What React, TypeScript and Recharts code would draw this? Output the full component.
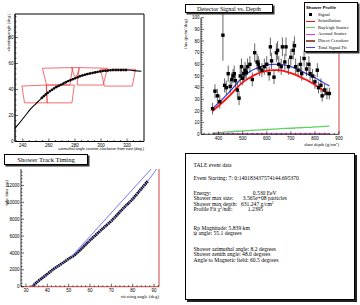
import React from 'react';
import {
  ComposedChart, Line, Scatter, XAxis, YAxis, ErrorBar, ReferenceArea, ReferenceLine,
} from 'recharts';

const SERIF = '"Liberation Serif", "Times New Roman", serif';
const SANS = '"Liberation Sans", Arial, sans-serif';

// ---- panel 1: track in the sky
const trackAz = [234, 238, 242, 246, 250, 254, 258, 262, 266, 270, 275, 280, 285, 290, 295, 300, 305, 310, 315, 320, 325, 331];
const trackEl = [10, 15, 20, 25, 29, 33, 36.5, 39.5, 42, 44, 46.5, 48.5, 50.5, 52, 53, 54, 54.5, 55, 55, 55, 54.5, 54];
const tubeOutlines = [
  [[255.1, 56.3], [278.2, 56.8], [276.1, 43.4], [258.2, 43.4]],
  [[277.4, 56.8], [283.3, 56.8], [281.5, 50.4], [279.5, 50.4]],
  [[283.3, 56.8], [304.9, 56.3], [301.7, 43.4], [281.7, 43.4]],
  [[299.6, 55.5], [326.5, 55.5], [324, 42.6], [302.6, 42.6]],
  [[239.3, 42.6], [258, 43.4], [258.7, 29.7], [241.3, 29.7]],
  [[258, 43.4], [279.5, 43.4], [277.7, 29.7], [258.7, 29.7]],
];
const az1Ticks = [235, 240, 245, 250, 255, 260, 265, 270, 275, 280, 285, 290, 295, 300, 305, 310, 315, 320, 325, 330];
const el1Ticks = [0, 4, 8, 12, 16, 20, 24, 28, 32, 36, 40, 44, 48, 52, 56, 60, 64, 68, 72, 76, 80, 84, 88, 92, 96];

// ---- panel 2: profile
const sigDepth = [375, 385, 395, 405, 418, 425, 432, 440, 448, 455, 460, 465, 470, 478, 485, 490, 495, 500, 505, 510, 515, 520, 530, 540, 550, 560, 565, 570, 580, 590, 600, 610, 615, 620, 630, 640, 645, 650, 660, 665, 675, 680, 690, 700, 710, 715, 720, 730, 740, 745, 755, 765, 775, 780, 790, 800, 810, 815, 825, 830, 840, 850, 860];
const sigFlux = [22, 37, 33, 28, 85, 42, 40, 52, 41, 47, 50, 52, 46, 38, 31, 50, 58, 48, 52, 55, 53, 58, 60, 47, 70, 62, 60, 57, 55, 58, 60, 52, 75, 63, 49, 70, 72, 60, 58, 75, 62, 75, 58, 66, 72, 76, 58, 55, 60, 52, 65, 56, 60, 52, 50, 45, 55, 40, 42, 33, 38, 35, 35];
const sigErr = [5, 6, 6, 6, 22, 6, 6, 7, 6, 6, 6, 7, 6, 6, 6, 7, 7, 6, 7, 7, 6, 7, 7, 6, 8, 7, 7, 7, 6, 7, 7, 6, 8, 7, 6, 8, 8, 7, 7, 8, 7, 8, 7, 7, 8, 8, 7, 6, 7, 6, 7, 6, 7, 6, 6, 6, 6, 5, 6, 5, 5, 5, 5];
const fitDepth = [375, 400, 425, 450, 475, 500, 525, 550, 575, 600, 625, 650, 675, 700, 725, 750, 775, 800, 825, 860];
const scintFlux = [20, 24.5, 29, 34, 39.5, 44.5, 48, 51, 53, 54.5, 55, 55, 54, 52.5, 50.5, 48, 45.5, 42.5, 39, 34];
const totalFlux = [22, 27, 32, 37.5, 43.5, 49, 53, 56, 58, 59.5, 60, 60, 59.5, 58, 56, 53.5, 51, 48.5, 45.5, 41.5];
const rayleighFlux = [1.2, 1.5, 1.9, 2.2, 2.6, 2.9, 3.2, 3.5, 3.8, 4.1, 4.4, 4.7, 5, 5.2, 5.5, 5.8, 6, 6.3, 6.6, 7];
const aerosolFlux = [0.4, 0.4, 0.4, 0.4, 0.4, 0.4, 0.4, 0.4, 0.4, 0.4, 0.4, 0.4, 0.4, 0.4, 0.4, 0.4, 0.4, 0.4, 0.4, 0.4];
const cerenkovFlux = [0.1, 0.1, 0.1, 0.1, 0.1, 0.1, 0.1, 0.1, 0.1, 0.1, 0.1, 0.1, 0.1, 0.1, 0.1, 0.1, 0.1, 0.1, 0.1, 0.1];
const depthTicks = [340, 360, 380, 400, 420, 440, 460, 480, 500, 520, 540, 560, 580, 600, 620, 640, 660, 680, 700, 720, 740, 760, 780, 800, 820, 840, 860, 880, 900];
const fluxTicks = [0, 2, 4, 6, 8, 10, 12, 14, 16, 18, 20, 22, 24, 26, 28, 30, 32, 34, 36, 38, 40, 42, 44, 46, 48, 50, 52, 54, 56, 58, 60, 62, 64, 66, 68, 70, 72, 74, 76, 78, 80, 82, 84, 86, 88, 90, 92, 94, 96, 98, 100];

// ---- panel 3: timing
const viewAngle = [33, 35, 37, 40, 43, 46, 50, 53, 56, 60, 63, 66, 70, 73, 76, 80, 83, 85, 87];
const tubeTime = [0, 500, 900, 1500, 2100, 2600, 3300, 3800, 4500, 5500, 6200, 6900, 7800, 8600, 9400, 10400, 11300, 11900, 12500];
const fitAngle = [32.5, 40, 50, 60, 70, 80, 87, 91.3];
const fitTime = [0, 1500, 3300, 5500, 7800, 10400, 12500, 14000];
const lineAngle = [51.5, 88.8];
const lineTime = [3600, 14000];
const angleTicks = [28, 30, 32, 34, 36, 38, 40, 42, 44, 46, 48, 50, 52, 54, 56, 58, 60, 62, 64, 66, 68, 70, 72, 74, 76, 78, 80, 82, 84, 86, 88, 90, 92];
const timeTicks = [0, 400, 800, 1200, 1600, 2000, 2400, 2800, 3200, 3600, 4000, 4400, 4800, 5200, 5600, 6000, 6400, 6800, 7200, 7600, 8000, 8400, 8800, 9200, 9600, 10000, 10400, 10800, 11200, 11600, 12000, 12400, 12800, 13200, 13600];

const zip = (xs: number[], ys: number[]) => xs.map((x, i) => ({ x, y: ys[i] }));

const isMajor = (v: number, step: number) => Math.abs(v / step - Math.round(v / step)) < 1e-6;

function yTick(axisX: number, step: number, fs = 4.5) {
  return (props: any) => {
    const { y, payload } = props;
    const major = isMajor(payload.value, step);
    return (
      <g>
        <line x1={axisX} x2={axisX + (major ? 3 : 1.5)} y1={y} y2={y} stroke="#000" strokeWidth={0.6} />
        {major && (
          <text x={axisX - 1.5} y={y + fs * 0.35} textAnchor="end" fontSize={fs} fontFamily={SANS} fill="#000">
            {payload.value}
          </text>
        )}
      </g>
    );
  };
}

function xTick(axisY: number, step: number, fs = 4.5) {
  return (props: any) => {
    const { x, payload } = props;
    const major = isMajor(payload.value, step);
    return (
      <g>
        <line x1={x} x2={x} y1={axisY} y2={axisY - (major ? 3 : 1.5)} stroke="#000" strokeWidth={0.6} />
        {major && (
          <text x={x} y={axisY + fs + 1} textAnchor="middle" fontSize={fs} fontFamily={SANS} fill="#000">
            {payload.value}
          </text>
        )}
      </g>
    );
  };
}

const boxStyle: React.CSSProperties = {
  position: 'absolute',
  background: '#fff',
  border: '0.8px solid #000',
  boxShadow: '1.5px 1.5px 0 #333',
  boxSizing: 'border-box',
};

const Sup = ({ children }: { children: React.ReactNode }) => (
  <span style={{ fontSize: '0.62em', position: 'relative', top: '-0.55em', lineHeight: 0 }}>{children}</span>
);

function TrackPanel() {
  const plot = { top: 14, right: 144, bottom: 141.5, left: 15 };
  const w = 150, h = 150;
  return (
    <div style={{ position: 'absolute', left: 0, top: 0 }}>
      <ComposedChart width={w} height={h} margin={{ top: plot.top, right: w - plot.right, bottom: h - plot.bottom - 1, left: plot.left - 1 }}>
        <XAxis type="number" dataKey="x" domain={[234, 333]} allowDataOverflow ticks={az1Ticks} interval={0}
          height={1} tickSize={0} tickLine={false} axisLine={{ stroke: '#000', strokeWidth: 0.8 }}
          tick={xTick(plot.bottom, 20)} />
        <YAxis type="number" dataKey="y" domain={[0, 98]} allowDataOverflow ticks={el1Ticks} interval={0}
          width={1} tickSize={0} tickLine={false} axisLine={{ stroke: '#000', strokeWidth: 0.8 }}
          tick={yTick(plot.left, 20)} />
        <ReferenceArea x1={234} x2={333} y1={0} y2={98} fill="none" stroke="#000" strokeWidth={1} ifOverflow="visible" />
        {tubeOutlines.map((t, i) => (
          <Line key={i} data={[...t, t[0]].map(([x, y]) => ({ x, y }))} dataKey="y" type="linear"
            stroke="#f03030" strokeWidth={0.7} dot={false} isAnimationActive={false} />
        ))}
        <Line data={zip(trackAz, trackEl)} dataKey="y" type="monotone" stroke="#000" strokeWidth={1.1} dot={false} isAnimationActive={false} />
        <Line data={zip(trackAz.slice(5, 20), trackEl.slice(5, 20))} dataKey="y" type="monotone" stroke="#000" strokeWidth={2.4}
          strokeDasharray="2 0.6" dot={false} isAnimationActive={false} />
      </ComposedChart>
      <div style={{ position: 'absolute', left: 5.5, top: 14, transformOrigin: '0 0', transform: 'rotate(-90deg) translate(-44px, 0)',
        fontFamily: SANS, fontSize: 3.9, whiteSpace: 'nowrap', width: 44, textAlign: 'right' }}>
        elevation angle (deg.)
      </div>
      <div style={{ position: 'absolute', left: 30, top: 146.5, width: 114, textAlign: 'right', fontFamily: SANS, fontSize: 3.8, whiteSpace: 'nowrap' }}>
        azimuthal angle counter-clockwise from east (deg.)
      </div>
    </div>
  );
}

function ProfilePanel() {
  const plot = { top: 17.7, right: 159, bottom: 134.3, left: 21 };
  const w = 180, h = 150;
  const sig = sigDepth.map((x, i) => ({ x, y: sigFlux[i], e: sigErr[i] }));
  return (
    <div style={{ position: 'absolute', left: 180, top: 0 }}>
      <ComposedChart width={w} height={h} margin={{ top: plot.top, right: w - plot.right, bottom: h - plot.bottom - 1, left: plot.left - 1 }}>
        <XAxis type="number" dataKey="x" domain={[327, 900]} allowDataOverflow ticks={depthTicks} interval={0}
          height={1} tickSize={0} tickLine={false} axisLine={{ stroke: '#000', strokeWidth: 0.8 }}
          tick={xTick(plot.bottom, 100)} />
        <YAxis type="number" dataKey="y" domain={[0, 100]} allowDataOverflow ticks={fluxTicks} interval={0}
          width={1} tickSize={0} tickLine={false} axisLine={{ stroke: '#000', strokeWidth: 0.8 }}
          tick={yTick(plot.left, 10)} />
        <ReferenceLine x={900} stroke="#d04040" strokeWidth={1} ifOverflow="visible" />
        <Line data={zip(fitDepth, rayleighFlux)} dataKey="y" type="monotone" stroke="#5fd35f" strokeWidth={1.3} dot={false} isAnimationActive={false} />
        <Line data={zip(fitDepth, cerenkovFlux)} dataKey="y" type="monotone" stroke="#8b5a4a" strokeWidth={1} dot={false} isAnimationActive={false} />
        <Line data={zip(fitDepth, aerosolFlux)} dataKey="y" type="monotone" stroke="#ee33ee" strokeWidth={1} dot={false} isAnimationActive={false} />
        <Line data={zip(fitDepth, totalFlux)} dataKey="y" type="monotone" stroke="#4444dd" strokeWidth={1.3} dot={false} isAnimationActive={false} />
        <Scatter data={sig} dataKey="y" isAnimationActive={false}
          shape={(p: any) => <rect x={p.cx - 1.7} y={p.cy - 1.7} width={3.4} height={3.4} fill="#000" />}>
          <ErrorBar dataKey="e" direction="y" width={0} stroke="#000" strokeWidth={0.6} />
        </Scatter>
        <Line data={zip(fitDepth, scintFlux)} dataKey="y" type="monotone" stroke="#ff1010" strokeWidth={1.8} dot={false} isAnimationActive={false} />
      </ComposedChart>
      <div style={{ ...boxStyle, left: 5, top: 4, width: 88, height: 9, fontFamily: SERIF, fontSize: 6.2, textAlign: 'center', lineHeight: '8px' }}>
        Detector Signal vs. Depth
      </div>
      <div style={{ position: 'absolute', left: 2.5, top: 19, transformOrigin: '0 0', transform: 'rotate(-90deg) translate(-40px, 0)',
        fontFamily: SERIF, fontSize: 4.6, whiteSpace: 'nowrap', width: 40, textAlign: 'right' }}>
        flux (pe/m<Sup>2</Sup>/deg)
      </div>
      <div style={{ position: 'absolute', left: 100, top: 142, width: 59, textAlign: 'right', fontFamily: SERIF, fontSize: 4.6, whiteSpace: 'nowrap' }}>
        slant depth (g/cm<Sup>2</Sup>)
      </div>
      <div style={{ ...boxStyle, left: 123.5, top: 2, width: 54, height: 50, fontFamily: SERIF, fontSize: 4.6 }}>
        <div style={{ position: 'absolute', left: 1.5, top: 1.5, fontFamily: SANS, fontWeight: 'bold', fontSize: 4.3 }}>Shower Profile</div>
        {[
          { label: 'Signal', color: '#000', marker: true },
          { label: 'Scintillation', color: '#ff1010' },
          { label: 'Rayleigh Scatter', color: '#5fd35f' },
          { label: 'Aerosol Scatter', color: '#ee33ee' },
          { label: 'Direct Cerenkov', color: '#8b5a4a' },
          { label: 'Total Signal Fit', color: '#4444dd' },
        ].map((it, i) => (
          <div key={it.label} style={{ position: 'absolute', left: 0, top: 8.5 + i * 6.65, width: 54, height: 6 }}>
            {it.marker ? (
              <div style={{ position: 'absolute', left: 4.5, top: 1.3, width: 3.2, height: 3.2, background: '#000' }} />
            ) : (
              <div style={{ position: 'absolute', left: 1.5, top: 2.4, width: 9, height: 1.1, background: it.color }} />
            )}
            <div style={{ position: 'absolute', left: 13.5, top: 0, whiteSpace: 'nowrap', lineHeight: '6px' }}>{it.label}</div>
          </div>
        ))}
      </div>
    </div>
  );
}

function TimingPanel() {
  const plot = { top: 19, right: 159, bottom: 136.7, left: 21 };
  const w = 180, h = 155;
  return (
    <div style={{ position: 'absolute', left: 0, top: 150 }}>
      <ComposedChart width={w} height={h} margin={{ top: plot.top, right: w - plot.right, bottom: h - plot.bottom - 1, left: plot.left - 1 }}>
        <XAxis type="number" dataKey="x" domain={[27.7, 92.3]} allowDataOverflow ticks={angleTicks} interval={0}
          height={1} tickSize={0} tickLine={false} axisLine={{ stroke: '#d04040', strokeWidth: 1 }}
          tick={xTick(plot.bottom, 10)} />
        <YAxis type="number" dataKey="y" domain={[0, 13950]} allowDataOverflow ticks={timeTicks} interval={0}
          width={1} tickSize={0} tickLine={false} axisLine={{ stroke: '#000', strokeWidth: 0.8 }}
          tick={yTick(plot.left, 2000)} />
        <ReferenceLine x={92.3} stroke="#d04040" strokeWidth={1} ifOverflow="visible" />
        <Line data={zip(viewAngle, tubeTime)} dataKey="y" type="monotone" stroke="#000" strokeWidth={2.8}
          strokeDasharray="1.6 0.5" dot={false} isAnimationActive={false} />
        <Line data={zip(fitAngle, fitTime)} dataKey="y" type="monotone" stroke="#5555ee" strokeWidth={0.8} dot={false} isAnimationActive={false} />
        <Line data={zip(lineAngle, lineTime)} dataKey="y" type="linear" stroke="#5555ee" strokeWidth={0.8} dot={false} isAnimationActive={false} />
      </ComposedChart>
      <div style={{ ...boxStyle, left: 4, top: 4, width: 84, height: 11, fontFamily: SERIF, fontSize: 6.6, textAlign: 'center', lineHeight: '10px' }}>
        Shower Track Timing
      </div>
      <div style={{ position: 'absolute', left: 3.5, top: 30, transformOrigin: '0 0', transform: 'rotate(-90deg) translate(-34px, 0)',
        fontFamily: SERIF, fontSize: 4.6, whiteSpace: 'nowrap', width: 34, textAlign: 'right' }}>
        tube time (ns)
      </div>
      <div style={{ position: 'absolute', left: 100, top: 143.5, width: 59, textAlign: 'right', fontFamily: SERIF, fontSize: 4.8, whiteSpace: 'nowrap' }}>
        viewing angle (deg)
      </div>
    </div>
  );
}

const infoLines: { text: React.ReactNode; value?: React.ReactNode; vx?: number; y: number }[] = [
  { text: 'TALE event data', y: 165 },
  { text: 'Event Starting: 7: 0:140183437574144.695370', y: 178.3 },
  { text: 'Energy:', value: '0.530 EeV', vx: 251.7, y: 193.3 },
  { text: 'Shower max size:', value: '3.565e+08 particles', vx: 241.7, y: 198.5 },
  { text: 'Shower max depth:', value: <>631.247 g/cm<Sup>2</Sup></>, vx: 240, y: 204 },
  { text: <>Profile Fit χ<Sup>2</Sup>/ndf:</>, value: '1.2395', vx: 246.7, y: 209.3 },
  { text: 'Rp Magnitude: 5.839 km', y: 228.3 },
  { text: 'ψ angle: 55.1 degrees', y: 233.8 },
  { text: 'Shower azimuthal angle: 8.2 degrees', y: 249.3 },
  { text: 'Shower zenith angle: 48.0 degrees', y: 254.7 },
  { text: 'Angle to Magnetic field: 60.5 degrees', y: 260 },
];

function InfoPanel() {
  const row: React.CSSProperties = { position: 'absolute', fontFamily: SERIF, fontSize: 5.6, whiteSpace: 'nowrap', lineHeight: '6px', height: 6 };
  return (
    <div style={{ ...boxStyle, left: 185, top: 153, width: 170, height: 147, boxShadow: '2px 2px 0 #222' }}>
      {infoLines.map((l, i) => (
        <React.Fragment key={i}>
          <div style={{ ...row, left: 7.5, top: l.y - 153 - 4.5 }}>{l.text}</div>
          {l.value !== undefined && (
            <div style={{ ...row, left: (l.vx as number) - 185, top: l.y - 153 - 4.5 }}>{l.value}</div>
          )}
        </React.Fragment>
      ))}
    </div>
  );
}

export default function App() {
  return (
    <div style={{ position: 'absolute', left: 0, top: 0, width: 360, height: 305, background: '#fff', overflow: 'hidden' }}>
      <TrackPanel />
      <ProfilePanel />
      <TimingPanel />
      <InfoPanel />
    </div>
  );
}
